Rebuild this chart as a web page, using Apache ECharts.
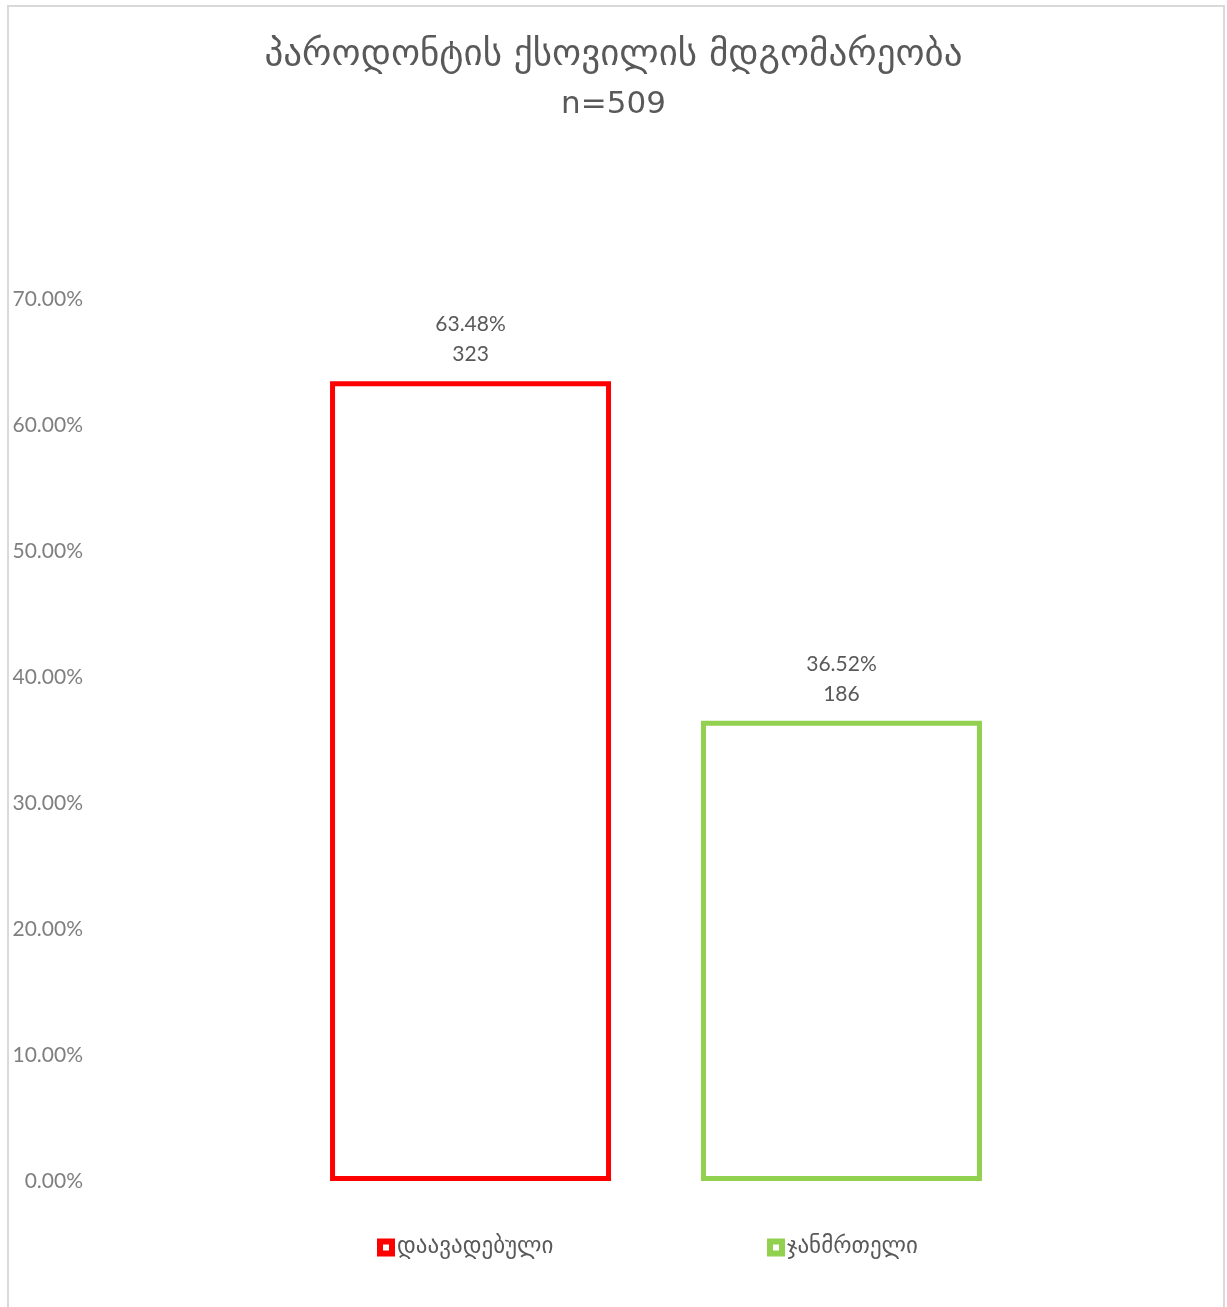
<!DOCTYPE html>
<html>
<head>
<meta charset="utf-8">
<title>პაროდონტის ქსოვილის მდგომარეობა</title>
<script src="https://cdn.jsdelivr.net/npm/echarts@6/dist/echarts.min.js"></script>
<style>
  html, body { margin: 0; padding: 0; background: #fff; }
  #main { width: 1227px; height: 1307px; }
</style>
</head>
<body>
<div id="main"></div>
<script>
// მონაცემები
var categories = [""];
var seriesNames = ["დაავადებული", "ჯანმრთელი"];
var percentValues = [63.48, 36.52];
var countValues = [323, 186];
var seriesColors = ["#FF0000", "#92D050"];
var yTicks = { min: 0, max: 70, interval: 10 };

var chart = echarts.init(document.getElementById("main"));

var series = seriesNames.map(function (name, i) {
  return {
    name: name,
    type: "bar",
    barWidth: 281,
    barGap: "32%",
    itemStyle: {
      color: "#ffffff",
      borderColor: seriesColors[i],
      borderWidth: 5,
    },
    label: {
      show: true,
      position: "top",
      distance: 12,
      color: "#595959",
      fontSize: 21,
      lineHeight: 30,
      fontFamily: "Lato, 'DejaVu Sans'",
      formatter: function () {
        return percentValues[i].toFixed(2) + "%\n" + countValues[i];
      },
    },
    data: [percentValues[i]],
  };
});

var legendBase = {
  top: 1236,
  padding: 0,
  itemWidth: 12,
  itemHeight: 12,
  icon: "rect",
  itemStyle: { borderWidth: 6 },
  textStyle: { color: "#595959", fontSize: 23, fontFamily: "'DejaVu Sans'" },
};

chart.setOption({
  animation: false,
  title: {
    text: "{a|პაროდონტის ქსოვილის მდგომარეობა}\n{b|n=509}",
    left: "center",
    top: 25,
    textStyle: {
      fontWeight: "normal",
      rich: {
        a: { color: "#595959", fontSize: 37, fontWeight: "normal", lineHeight: 50, fontFamily: "'DejaVu Sans'" },
        b: { color: "#595959", fontSize: 31, fontWeight: "normal", lineHeight: 50, fontFamily: "'DejaVu Sans'" },
      },
    },
  },
  graphic: [
    {
      type: "rect",
      shape: { x: 8, y: 6, width: 1216, height: 1330 },
      style: { fill: "none", stroke: "#d9d9d9", lineWidth: 2 },
      silent: true,
    },
  ],
  // ორი ლეგენდა, რომ პოზიციები ზუსტად დაემთხვეს
  legend: [
    Object.assign({ data: [seriesNames[0]], left: 377 }, legendBase),
    Object.assign({ data: [seriesNames[1]], left: 767 }, legendBase),
  ],
  grid: {
    left: 95,
    right: 10,
    top: 299,
    bottom: 126,
    containLabel: false,
  },
  xAxis: {
    type: "category",
    data: categories,
    axisLine: { show: false },
    axisTick: { show: false },
    axisLabel: { show: false },
  },
  yAxis: {
    type: "value",
    min: yTicks.min,
    max: yTicks.max,
    interval: yTicks.interval,
    splitLine: { show: false },
    axisLine: { show: false },
    axisTick: { show: false },
    axisLabel: {
      margin: 12,
      color: "#7f7f7f",
      fontSize: 21,
      fontFamily: "Lato, 'DejaVu Sans'",
      formatter: function (v) {
        return v.toFixed(2) + "%";
      },
    },
  },
  series: series,
});
</script>
</body>
</html>
